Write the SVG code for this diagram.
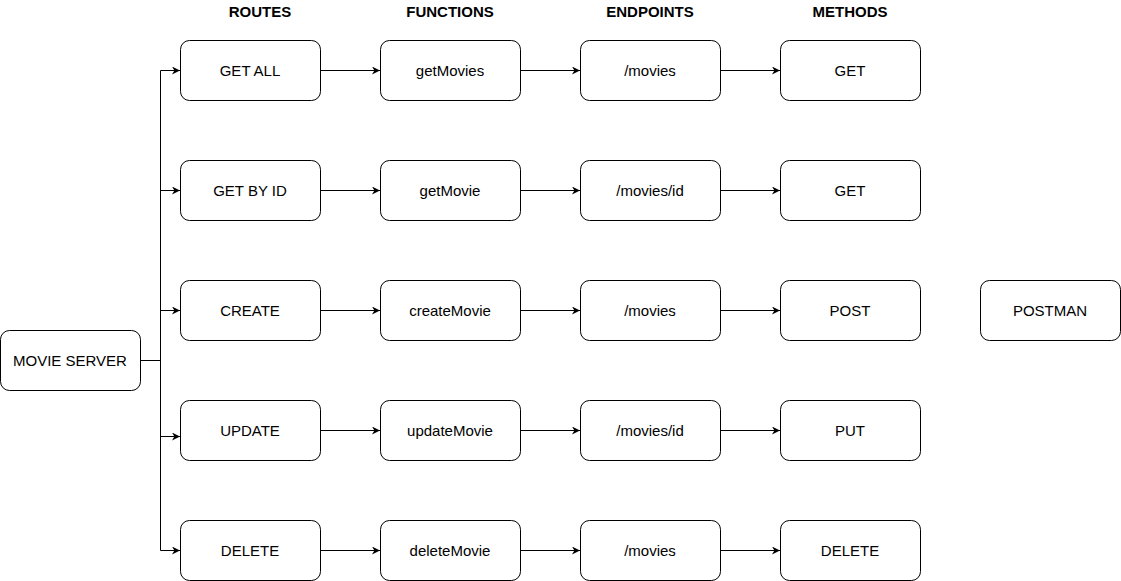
<svg xmlns="http://www.w3.org/2000/svg" width="1121" height="581" viewBox="0 0 1121 581">
<style>
.n rect{fill:#fff;stroke:#000;stroke-width:1}
.n text,.h{font-family:"Liberation Sans",Arial,sans-serif;font-size:15px;fill:#000;text-anchor:middle;dominant-baseline:central}
.h{font-weight:bold}
.c path{fill:none;stroke:#000;stroke-width:1}
</style>
<defs>
<marker id="a" viewBox="0 0 10 10" refX="10" refY="5" markerWidth="8" markerHeight="8" markerUnits="userSpaceOnUse" orient="auto">
<path d="M0,0 L10,5 L0,10 L3,5 Z" fill="#000"/>
</marker>
</defs>
<rect width="1121" height="581" fill="#fff"/>
<g id="headers">
<text class="h" x="260" y="11">ROUTES</text>
<text class="h" x="450" y="11">FUNCTIONS</text>
<text class="h" x="650" y="11">ENDPOINTS</text>
<text class="h" x="850" y="11">METHODS</text>
</g>
<g class="c" id="connectors">
<path d="M140.5,360.5 H160.5"/>
<path d="M160.5,70.5 V550.5"/>
<path d="M160.5,70.5 H180" marker-end="url(#a)"/>
<path d="M160.5,190.5 H180" marker-end="url(#a)"/>
<path d="M160.5,310.5 H180" marker-end="url(#a)"/>
<path d="M160.5,436.5 H180" marker-end="url(#a)"/>
<path d="M160.5,550.5 H180" marker-end="url(#a)"/>
<path d="M320.5,70.5 H380" marker-end="url(#a)"/>
<path d="M520.5,70.5 H580" marker-end="url(#a)"/>
<path d="M720.5,70.5 H780" marker-end="url(#a)"/>
<path d="M320.5,190.5 H380" marker-end="url(#a)"/>
<path d="M520.5,190.5 H580" marker-end="url(#a)"/>
<path d="M720.5,190.5 H780" marker-end="url(#a)"/>
<path d="M320.5,310.5 H380" marker-end="url(#a)"/>
<path d="M520.5,310.5 H580" marker-end="url(#a)"/>
<path d="M720.5,310.5 H780" marker-end="url(#a)"/>
<path d="M320.5,430.5 H380" marker-end="url(#a)"/>
<path d="M520.5,430.5 H580" marker-end="url(#a)"/>
<path d="M720.5,430.5 H780" marker-end="url(#a)"/>
<path d="M320.5,550.5 H380" marker-end="url(#a)"/>
<path d="M520.5,550.5 H580" marker-end="url(#a)"/>
<path d="M720.5,550.5 H780" marker-end="url(#a)"/>
</g>
<g class="n" id="server"><rect x="0.5" y="330.5" width="140" height="60" rx="9"/><text x="70" y="360">MOVIE SERVER</text></g>
<g class="n" id="postman"><rect x="980.5" y="280.5" width="140" height="60" rx="9"/><text x="1050" y="310">POSTMAN</text></g>
<g class="n" id="r1"><rect x="180.5" y="40.5" width="140" height="60" rx="9"/><text x="250" y="70">GET ALL</text></g>
<g class="n" id="f1"><rect x="380.5" y="40.5" width="140" height="60" rx="9"/><text x="450" y="70">getMovies</text></g>
<g class="n" id="e1"><rect x="580.5" y="40.5" width="140" height="60" rx="9"/><text x="650" y="70">/movies</text></g>
<g class="n" id="m1"><rect x="780.5" y="40.5" width="140" height="60" rx="9"/><text x="850" y="70">GET</text></g>
<g class="n" id="r2"><rect x="180.5" y="160.5" width="140" height="60" rx="9"/><text x="250" y="190">GET BY ID</text></g>
<g class="n" id="f2"><rect x="380.5" y="160.5" width="140" height="60" rx="9"/><text x="450" y="190">getMovie</text></g>
<g class="n" id="e2"><rect x="580.5" y="160.5" width="140" height="60" rx="9"/><text x="650" y="190">/movies/id</text></g>
<g class="n" id="m2"><rect x="780.5" y="160.5" width="140" height="60" rx="9"/><text x="850" y="190">GET</text></g>
<g class="n" id="r3"><rect x="180.5" y="280.5" width="140" height="60" rx="9"/><text x="250" y="310">CREATE</text></g>
<g class="n" id="f3"><rect x="380.5" y="280.5" width="140" height="60" rx="9"/><text x="450" y="310">createMovie</text></g>
<g class="n" id="e3"><rect x="580.5" y="280.5" width="140" height="60" rx="9"/><text x="650" y="310">/movies</text></g>
<g class="n" id="m3"><rect x="780.5" y="280.5" width="140" height="60" rx="9"/><text x="850" y="310">POST</text></g>
<g class="n" id="r4"><rect x="180.5" y="400.5" width="140" height="60" rx="9"/><text x="250" y="430">UPDATE</text></g>
<g class="n" id="f4"><rect x="380.5" y="400.5" width="140" height="60" rx="9"/><text x="450" y="430">updateMovie</text></g>
<g class="n" id="e4"><rect x="580.5" y="400.5" width="140" height="60" rx="9"/><text x="650" y="430">/movies/id</text></g>
<g class="n" id="m4"><rect x="780.5" y="400.5" width="140" height="60" rx="9"/><text x="850" y="430">PUT</text></g>
<g class="n" id="r5"><rect x="180.5" y="520.5" width="140" height="60" rx="9"/><text x="250" y="550">DELETE</text></g>
<g class="n" id="f5"><rect x="380.5" y="520.5" width="140" height="60" rx="9"/><text x="450" y="550">deleteMovie</text></g>
<g class="n" id="e5"><rect x="580.5" y="520.5" width="140" height="60" rx="9"/><text x="650" y="550">/movies</text></g>
<g class="n" id="m5"><rect x="780.5" y="520.5" width="140" height="60" rx="9"/><text x="850" y="550">DELETE</text></g>
</svg>
